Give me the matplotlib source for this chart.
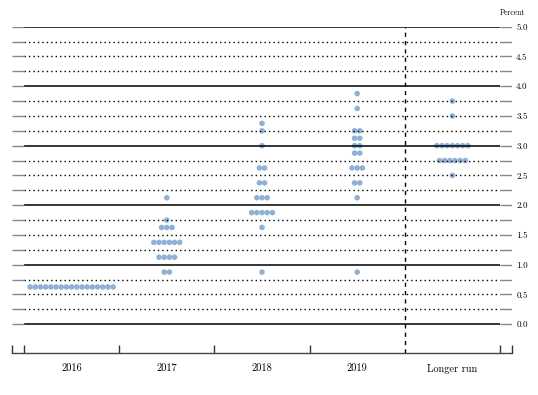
import numpy as np
import matplotlib.pyplot as plt

# Dot plot data: midpoint of target range -> number of participants
periods = ['2016', '2017', '2018', '2019', 'Longer run']

rates_2016 = [0.625]
counts_2016 = [17]

rates_2017 = [0.875, 1.125, 1.375, 1.625, 1.75, 2.125]
counts_2017 = [2, 4, 6, 3, 1, 1]

rates_2018 = [0.875, 1.625, 1.875, 2.125, 2.375, 2.625, 3.0, 3.25, 3.375]
counts_2018 = [1, 1, 5, 3, 2, 2, 1, 1, 1]

rates_2019 = [0.875, 2.125, 2.375, 2.625, 2.875, 3.0, 3.125, 3.25, 3.625, 3.875]
counts_2019 = [1, 1, 2, 3, 2, 2, 2, 2, 1, 1]

rates_lr = [2.5, 2.75, 3.0, 3.5, 3.75]
counts_lr = [1, 6, 7, 1, 1]

all_rates = [rates_2016, rates_2017, rates_2018, rates_2019, rates_lr]
all_counts = [counts_2016, counts_2017, counts_2018, counts_2019, counts_lr]

levels = np.arange(0, 5.01, 0.25)
label_levels = np.arange(0, 5.01, 0.5)

dot_color = '#8fb1d6'
font = 'cmr10'

fig = plt.figure(figsize=(5.38, 3.95), dpi=100)
ax = fig.add_axes([12/538, 42.3/395, 500/538, 326/395])
xmin, xmax = -0.626, 4.626
ax.set_xlim(xmin, xmax)
ax.set_ylim(-0.48, 5.0)

# dots
step = 0.0545
for i, (rates, counts) in enumerate(zip(all_rates, all_counts)):
    for r, n in zip(rates, counts):
        xs = i + (np.arange(n) - (n - 1) / 2) * step
        ax.scatter(xs, [r] * n, s=16, color=dot_color, edgecolors='none', zorder=1)

# horizontal grid lines
for v in levels:
    if abs(v - round(v)) < 1e-9:
        ax.hlines(v, -0.5, 4.5, color='black', lw=1.1, zorder=2)
    else:
        ax.hlines(v, -0.5, 4.5, color='black', lw=1.0, linestyles=(0, (1, 2.2)), zorder=2)
    ax.hlines(v, xmin, -0.5, color='#888888', lw=1.0, zorder=2)
    ax.hlines(v, 4.5, xmax, color='#888888', lw=1.0, zorder=2)

# separator for longer run
ax.vlines(3.5, -0.48, 5.0, color='black', lw=1.0, linestyles=(0, (3, 3)), zorder=3)

# axes styling
for s in ['top', 'left', 'right']:
    ax.spines[s].set_visible(False)
ax.spines['bottom'].set_color('#444444')
ax.spines['bottom'].set_linewidth(1.0)

ax.set_xticks(range(5))
ax.set_xticklabels(periods, fontfamily=font, fontsize=7.5)
ax.tick_params(axis='x', which='major', length=0, pad=8)
ax.set_xticks([xmin, -0.5, 0.5, 1.5, 2.5, 4.5, xmax], minor=True)
ax.tick_params(axis='x', which='minor', direction='in', length=5.5, width=1.0, color='#333333')

ax.yaxis.tick_right()
ax.set_yticks(label_levels)
ax.set_yticklabels([f'{v:.1f}' for v in label_levels], fontfamily=font, fontsize=6.5)
ax.tick_params(axis='y', length=0, pad=3)

ax.text(xmax, 5.24, 'Percent', ha='center', va='center', fontfamily=font, fontsize=5.5, clip_on=False)

fig.savefig('out.png', dpi=100)
